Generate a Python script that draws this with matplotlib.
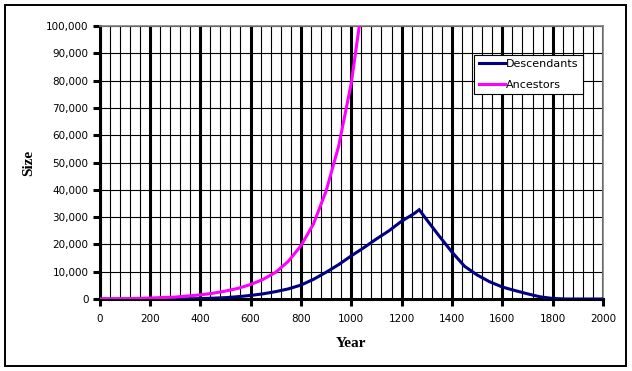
import matplotlib
matplotlib.use("Agg")
import matplotlib.pyplot as plt
from matplotlib.ticker import MultipleLocator, FuncFormatter
from matplotlib.patches import Rectangle

# values
desc_years = [0, 100, 200, 300, 350, 400, 450, 500, 550, 600, 650, 700, 750, 800, 850,
              900, 950, 1000, 1050, 1100, 1150, 1200, 1250, 1270, 1300, 1350, 1400,
              1450, 1500, 1550, 1600, 1650, 1700, 1750, 1800, 1850, 1900, 2000]
descendants = [0, 0, 0, 0, 50, 150, 300, 500, 850, 1300, 1900, 2700, 3700, 5100, 7200,
               9800, 12600, 15800, 18800, 22000, 25000, 28500, 31300, 32700, 29000, 23000, 17200,
               12000, 8800, 6300, 4400, 3100, 1900, 800, 200, 0, 0, 0]

anc_years = [0, 100, 200, 300, 400, 450, 500, 550, 600, 650, 700, 750, 800, 850,
             900, 950, 1000, 1050]
ancestors = [0, 100, 350, 700, 1500, 2100, 2900, 3900, 5300, 7200, 9800, 13800, 19500, 27500,
             39500, 56000, 79000, 112000]

fig = plt.figure(figsize=(6.32, 3.71), dpi=100)
fig.patches.append(Rectangle((5 / 632, 5 / 371), 621 / 632, 361 / 371, transform=fig.transFigure,
                             fill=False, edgecolor='black', linewidth=1.4))

ax = fig.add_axes([99.5 / 632, 72 / 371, 503.5 / 632, 273 / 371])

ax.plot(desc_years, descendants, color='#000080', linewidth=2.2, label='Descendants',
        solid_joinstyle='miter', zorder=4)
ax.plot(anc_years, ancestors, color='#FF00FF', linewidth=2.2, label='Ancestors',
        solid_joinstyle='miter', zorder=4)

ax.set_xlim(0, 2000)
ax.set_ylim(0, 100000)

ax.xaxis.set_major_locator(MultipleLocator(200))
ax.xaxis.set_minor_locator(MultipleLocator(40))
ax.yaxis.set_major_locator(MultipleLocator(10000))
ax.yaxis.set_major_formatter(FuncFormatter(lambda v, p: f"{int(v):,}"))

ax.grid(which='major', axis='x', color='black', linewidth=2.2)
ax.grid(which='minor', axis='x', color='black', linewidth=0.8)
ax.grid(which='major', axis='y', color='black', linewidth=0.8)
ax.set_axisbelow(True)

ax.tick_params(axis='both', which='major', direction='out', length=5, width=2.2,
               labelsize=7.5, pad=3)
ax.tick_params(axis='x', which='minor', length=0)
ax.tick_params(axis='x', pad=6)

for side in ['left', 'bottom']:
    ax.spines[side].set_linewidth(2.2)
for side in ['top', 'right']:
    ax.spines[side].set_color('#808080')
    ax.spines[side].set_linewidth(1.2)

ax.set_xlabel('Year', fontfamily='Liberation Serif', fontweight='bold', fontsize=11, labelpad=9)
ax.set_ylabel('Size', fontfamily='Liberation Serif', fontweight='bold', fontsize=11, labelpad=8)

leg = ax.legend(loc='upper left', bbox_to_anchor=(0.744, 0.894), fontsize=8,
                frameon=True, fancybox=False, shadow=False, framealpha=1,
                edgecolor='black', handlelength=2.4, handletextpad=0.1,
                labelspacing=0.95, borderpad=0.4, borderaxespad=0)
leg.get_frame().set_linewidth(0.8)

fig.savefig('out.png', dpi=100)
